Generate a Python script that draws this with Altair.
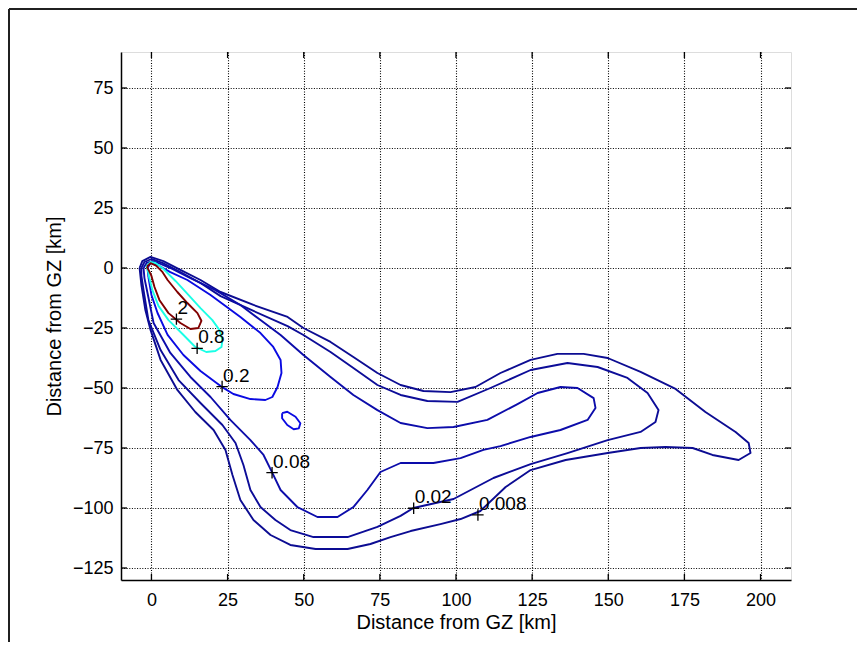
import altair as alt
import pandas as pd

# ---- axis ticks ----
x_ticks = [0, 25, 50, 75, 100, 125, 150, 175, 200]
y_ticks = [-125, -100, -75, -50, -25, 0, 25, 50, 75]

# ---- contour levels and colours (jet colormap) ----
levels = ["2", "0.8", "0.2", "0.08", "0.02", "0.008"]
level_colors = ["#800000", "#1affe6", "#0a0ae2", "#0c0caa", "#0c0c98", "#0c0c92"]

# ---- contour paths (km) ----
c_2 = [(-1.5, 0.5), (-0.3, 2.0), (1.5, 1.0), (3.5, -1.5), (5.3, -5), (8.5, -10), (11.8, -14.6),
       (15.1, -18.8), (16.4, -22), (15.4, -25), (12.8, -25.4), (9.5, -22.9), (5.6, -18.8),
       (2.6, -13.3), (1, -7.9), (0, -3.3), (-0.8, -1.2)]

c_08 = [(-1.0, -2.1), (-1.6, 0.8), (-0.3, 2.5), (1.3, 2.1), (3.6, 0), (7.9, -5.4), (12.2, -11.3),
        (16.1, -16.7), (20, -21.7), (22.3, -25.8), (23.3, -30), (23, -32.9), (21, -34.6), (18, -35),
        (14.4, -32.9), (10.2, -27.5), (5.6, -21.7), (2.3, -15.8), (0.3, -9.2), (-0.7, -4.2)]

c_02 = [(-1, -3.75), (-1.3, 0), (-0.3, 2.1), (2, 1.25), (6.2, -1.7), (11.8, -5), (19.4, -11.25),
        (29.2, -20.4), (35.8, -27.1), (40, -32.9), (42.4, -38.3), (42.7, -43.75), (41.4, -49.6),
        (39.7, -53.75), (37.4, -55), (32.5, -54.6), (26.9, -52.5), (22.7, -49.2), (16.1, -42.9),
        (10.5, -36.25), (5.3, -27.9), (2, -18.75), (0, -11.25)]

c_02_island = [(42.9, -60.5), (44.6, -59.9), (47.3, -62), (48.9, -64.7), (48.4, -66.8),
               (46.7, -67.2), (44.6, -65.4), (42.9, -62.6)]

c_008a = [(-2.6, 0), (-1.6, 2.1), (0.3, 2.9), (3, 1.7), (6.2, 0), (12.8, -4.2), (21, -9.2),
          (29.2, -15.4), (35.8, -21.7), (42.4, -27.9), (49.9, -36.25), (58.8, -45.4), (66.3, -52.9),
          (74.2, -59.2), (81.8, -64.6), (90.6, -66.7), (99.2, -66.25), (110.3, -63.3), (120.2, -56.7),
          (126.8, -52.1), (134.3, -49.6), (139.9, -50), (145.2, -54.2), (145.8, -58.3), (143.2, -63.3),
          (134.3, -67.5), (124.5, -70.4), (114.6, -74.2), (109, -75.8), (101.5, -79.2), (92.6, -81.25),
          (81.8, -81.25), (75.2, -85), (70.9, -92.5), (66.3, -99.6), (61.1, -103.75), (54.5, -103.75),
          (47.9, -99.6), (42.4, -92.5), (39.7, -85.4), (36.8, -77.9), (32.5, -71.7), (25.9, -63.3),
          (19.4, -53.75), (12.8, -45.4), (6.2, -35.4), (0.7, -22.9), (-1.3, -10.4), (-2.3, -4.2)]

c_002 = [(-3.3, 0), (-2.3, 2.5), (0, 3.75), (3.6, 2.1), (9.5, -1.7), (16.1, -6.25), (22.7, -11.7),
         (33.5, -17.9), (44.7, -24.2), (49.9, -27.9), (58.8, -35), (66.3, -41.7), (74.2, -48.75),
         (81.8, -52.9), (90.6, -55.4), (100.5, -55.8), (111.3, -50), (124.5, -42.5), (136.6, -39.6),
         (146.5, -41.25), (156.3, -45.8), (162.9, -52.1), (166.5, -59.2), (165.5, -64.2), (160.6, -68.3),
         (149.8, -71.7), (136.6, -77.1), (124.5, -81.7), (112.3, -87.5), (99.2, -96.25), (86, -100),
         (81.8, -103.3), (74.2, -107.9), (64.4, -112.1), (53.2, -112.1), (45.6, -109.2), (40.7, -105),
         (35.8, -99.6), (32.5, -92.5), (30.2, -82.1), (27.6, -72.9), (23.3, -65.4), (16.1, -56.25),
         (8.9, -46.7), (3, -34.2), (-1, -21.7), (-2.6, -9.2), (-3.3, -3.3)]

c_0008 = [(-3.9, 0), (-3, 2.9), (-0.3, 4.6), (3.9, 2.9), (9.5, -0.8), (16.1, -5), (22.7, -10),
          (33.5, -15.4), (44.7, -20.4), (49.9, -25), (58.8, -30.8), (66.3, -37.1), (74.2, -43.75),
          (81.8, -48.75), (89.3, -51.25), (98.2, -51.7), (106.4, -49.6), (114.6, -43.75), (124.5, -38.3),
          (133.3, -35.8), (141.9, -35.8), (149.8, -37.5), (160.6, -43.3), (172.1, -50.4), (181.9, -60),
          (191.8, -68.3), (196.1, -72.9), (196.7, -77.1), (192.8, -80), (184.2, -77.9), (177.7, -75),
          (168.8, -74.6), (160.6, -75), (149.8, -77.1), (136, -80), (124.5, -84.2), (116.3, -91.25),
          (108, -101.25), (101.5, -104.6), (94.9, -106.7), (85.1, -109.6), (78.5, -112.1), (71.9, -115),
          (64.4, -117.1), (53.9, -117.1), (45.6, -115.4), (39.1, -111.25), (33.5, -105), (29.2, -96.7),
          (26.6, -86.25), (24.3, -75.8), (20.4, -67.5), (14.4, -60), (8.5, -50.8), (3, -38.3),
          (-0.3, -25.8), (-2, -17.5), (-3.3, -7.1)]

contours = [("0.008", c_0008), ("0.02", c_002), ("0.08", c_008a), ("0.2", c_02),
            ("0.2", c_02_island), ("0.8", c_08), ("2", c_2)]

# ---- clabel markers ----
label_text = ["2", "0.8", "0.2", "0.08", "0.02", "0.008"]
label_x = [8.2, 15.0, 23.2, 39.6, 86.1, 107.2]
label_y = [-21.3, -33.5, -49.4, -85.3, -100.1, -102.9]

rows = []
for seg, (lev, pts) in enumerate(contours):
    closed = pts + [pts[0]]
    for i, (px, py) in enumerate(closed):
        rows.append({"x": px, "y": py, "level": lev, "seg": seg, "order": i})
df = pd.DataFrame(rows)
lab = pd.DataFrame({"t": label_text, "x": label_x, "y": label_y})

W, H = 670, 528
FONT = "Liberation Sans"
xs = alt.Scale(domain=[-10, 210], nice=False, zero=False)
ys = alt.Scale(domain=[-130, 90], nice=False, zero=False)

common = dict(grid=True, gridColor="black", gridDash=[1, 1.6], gridWidth=1.1, gridOpacity=1,
              tickSize=0, domainColor="black", domainWidth=1.5, labelFont=FONT, labelFontSize=18,
              labelColor="black", titleFont=FONT, titleFontSize=20, titleFontWeight="normal",
              titleColor="black", labelFlush=False)
x_axis = alt.Axis(values=x_ticks, title="Distance from GZ [km]", labelPadding=11, titlePadding=3, **common)
y_axis = alt.Axis(values=y_ticks, title="Distance from GZ [km]", labelPadding=8, titlePadding=8, **common)

lines = alt.Chart(df).mark_line(strokeWidth=1.9, strokeJoin="round").encode(
    x=alt.X("x:Q", scale=xs, axis=x_axis),
    y=alt.Y("y:Q", scale=ys, axis=y_axis),
    color=alt.Color("level:N", scale=alt.Scale(domain=levels, range=level_colors), legend=None),
    detail="seg:N",
    order="order:Q",
)

markers = alt.Chart(lab).mark_point(shape="M-1,0L1,0M0,-1L0,1", size=130, filled=False,
                                    color="black", strokeWidth=1.3, opacity=1).encode(
    x=alt.X("x:Q", scale=xs), y=alt.Y("y:Q", scale=ys))

texts = alt.Chart(lab).mark_text(align="left", baseline="alphabetic", dx=1, dy=-5,
                                 font=FONT, fontSize=19, color="black").encode(
    x=alt.X("x:Q", scale=xs), y=alt.Y("y:Q", scale=ys), text="t:N")

xt = pd.DataFrame({"v": x_ticks})
yt = pd.DataFrame({"v": y_ticks})
tick_b = alt.Chart(xt).mark_rule(color="black", strokeWidth=1.3).encode(
    x=alt.X("v:Q", scale=xs), y=alt.value(H), y2=alt.value(H - 6))
tick_t = alt.Chart(xt).mark_rule(color="black", strokeWidth=1.3).encode(
    x=alt.X("v:Q", scale=xs), y=alt.value(0), y2=alt.value(6))
tick_l = alt.Chart(yt).mark_rule(color="black", strokeWidth=1.3).encode(
    y=alt.Y("v:Q", scale=ys), x=alt.value(0), x2=alt.value(6))
tick_r = alt.Chart(yt).mark_rule(color="black", strokeWidth=1.3).encode(
    y=alt.Y("v:Q", scale=ys), x=alt.value(W), x2=alt.value(W - 6))

# figure-window frame (top and left edges)
frame_top = alt.Chart(xt).mark_rule(color="#202020", strokeWidth=2).encode(
    x=alt.value(-112), x2=alt.value(W + 70), y=alt.value(-43))
frame_left = alt.Chart(xt).mark_rule(color="#202020", strokeWidth=2).encode(
    x=alt.value(-112), y=alt.value(-43), y2=alt.value(H + 70))

chart = alt.layer(lines, markers, texts, tick_b, tick_t, tick_l, tick_r, frame_top, frame_left).properties(
    width=W, height=H,
    autosize=alt.AutoSizeParams(type="none"),
    padding={"left": 113, "top": 44, "right": 66, "bottom": 62},
).configure_view(stroke="black", strokeWidth=1.5).configure(background="white")

chart.save("out.html", embed_options={"renderer": "svg", "actions": False})
